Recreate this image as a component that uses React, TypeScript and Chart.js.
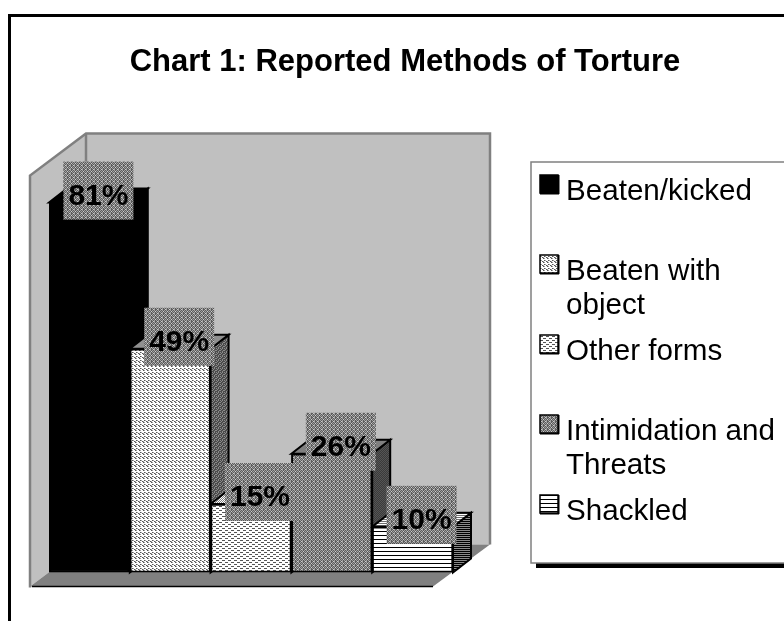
import React, { useEffect, useRef } from "react";
import { Chart, registerables } from "chart.js";

Chart.register(...registerables);

const TITLE = "Chart 1: Reported Methods of Torture";
const categories = ["Beaten/kicked", "Beaten with object", "Other forms", "Intimidation and Threats", "Shackled"];
const legendLines = [["Beaten/kicked"], ["Beaten with", "object"], ["Other forms"], ["Intimidation and", "Threats"], ["Shackled"]];
const values = [81, 49, 15, 26, 10];
const FONT = '"Liberation Sans", Arial, sans-serif';

type Palette = Record<string, string>;
function tile(rows: string[], pal: Palette): CanvasPattern {
  const c = document.createElement("canvas");
  c.width = rows[0].length;
  c.height = rows.length;
  const x = c.getContext("2d")!;
  rows.forEach((r, j) => [...r].forEach((ch, i) => {
    x.fillStyle = pal[ch];
    x.fillRect(i, j, 1, 1);
  }));
  return x.createPattern(c, "repeat")!;
}

export default function App() {
  const ref = useRef<HTMLCanvasElement>(null);
  useEffect(() => {
    const canvas = ref.current!;
    const bw = { a: "#ffffff", k: "#555555", g: "#a0a0a0" };
    const diag = tile(["kgaa", "aakg", "gaak", "aaaa"], bw);
    const wave = tile(["kkkaaa", "aaaaaa", "aaakkk", "aaaaaa"], bw);
    const dots = tile(["gdgd", "dlgd", "gdgd", "dgdl"], { g: "#a0a0a0", d: "#5c5c5c", l: "#cccccc" });
    const stripes = tile(["aaa", "aaa", "aaa", "kkk"], { a: "#ffffff", k: "#000000" });
    const hatchDark = tile(["gkgk", "kgkk", "gkkg", "kkgk"], { g: "#8a8a8a", k: "#4a4a4a" });
    const darkDots = tile(["dk", "kd"], { d: "#555555", k: "#3a3a3a" });
    const stripesDark = tile(["gg", "kk"], { g: "#8a8a8a", k: "#000000" });
    const topLight = tile(["ag", "ga"], { a: "#ffffff", g: "#808080" });
    const topStripes = tile(["gg", "kk"], { g: "#ffffff", k: "#707070" });
    const fronts: (string | CanvasPattern)[] = ["#000000", diag, wave, dots, stripes];
    const sides: (string | CanvasPattern)[] = ["#000000", hatchDark, hatchDark, darkDots, stripesDark];
    const tops: (string | CanvasPattern)[] = ["#000000", "#909090", topLight, "#808080", topStripes];
    const DX = 18, DY = 14;

    const scene = {
      id: "scene",
      beforeDatasetsDraw(chart: any) {
        const { ctx, chartArea: a } = chart;
        const h = a.bottom - a.top;
        const fx = a.left - 19, fy = a.bottom + 14;
        const bx = fx + 56, by = fy - 42;
        const frx = a.right - 20;
        const brx = a.right + 37;
        ctx.save();
        // frame
        ctx.fillStyle = "#000";
        ctx.fillRect(8, 14, 776, 3);
        ctx.fillRect(8, 14, 3, 607);
        // title
        ctx.font = `bold 31px ${FONT}`;
        ctx.textAlign = "center";
        ctx.textBaseline = "alphabetic";
        ctx.fillText(TITLE, 405, 71);
        // walls
        ctx.lineJoin = "miter";
        ctx.strokeStyle = "#808080";
        ctx.lineWidth = 2.5;
        ctx.fillStyle = "#c0c0c0";
        ctx.fillRect(bx, by - h, brx - bx, h);
        ctx.beginPath();
        ctx.moveTo(fx, fy - h); ctx.lineTo(bx, by - h); ctx.lineTo(bx, by); ctx.lineTo(fx, fy); ctx.closePath();
        ctx.fill();
        // floor
        ctx.fillStyle = "#808080";
        ctx.beginPath();
        ctx.moveTo(fx, fy); ctx.lineTo(bx, by); ctx.lineTo(brx, by); ctx.lineTo(frx, fy); ctx.closePath();
        ctx.fill();
        // wall edges
        ctx.beginPath();
        ctx.moveTo(fx, fy + 1); ctx.lineTo(fx, fy - h); ctx.lineTo(bx, by - h); ctx.lineTo(brx, by - h); ctx.lineTo(brx, by);
        ctx.moveTo(bx, by - h); ctx.lineTo(bx, by);
        ctx.stroke();
        ctx.strokeStyle = "#000";
        ctx.lineWidth = 1.5;
        ctx.beginPath();
        ctx.moveTo(fx + 2, fy); ctx.lineTo(frx, fy);
        ctx.stroke();
        // bar depth faces
        const meta = chart.getDatasetMeta(0);
        meta.data.forEach((bar: any, i: number) => {
          const half = bar.width / 2;
          const l = bar.x - half, r = bar.x + half, t = bar.y, b = bar.base;
          ctx.lineWidth = 2;
          ctx.strokeStyle = "#000";
          ctx.fillStyle = sides[i];
          ctx.beginPath();
          ctx.moveTo(r, t); ctx.lineTo(r + DX, t - DY); ctx.lineTo(r + DX, b - DY); ctx.lineTo(r, b); ctx.closePath();
          ctx.fill(); ctx.stroke();
          ctx.fillStyle = tops[i];
          ctx.beginPath();
          ctx.moveTo(l, t); ctx.lineTo(l + DX, t - DY); ctx.lineTo(r + DX, t - DY); ctx.lineTo(r, t); ctx.closePath();
          ctx.fill(); ctx.stroke();
        });
        ctx.restore();
      },
      afterDatasetsDraw(chart: any) {
        const { ctx } = chart;
        const meta = chart.getDatasetMeta(0);
        ctx.save();
        ctx.textAlign = "center";
        ctx.textBaseline = "alphabetic";
        meta.data.forEach((bar: any, i: number) => {
          const cx = bar.x + 9, cy = bar.y - 12;
          ctx.fillStyle = dots;
          ctx.fillRect(cx - 35, cy - 29, 70, 58);
          ctx.fillStyle = "#000";
          ctx.font = `bold 30px ${FONT}`;
          ctx.fillText(`${values[i]}%`, cx, cy + 14);
        });
        // legend box
        ctx.fillStyle = "#000";
        ctx.fillRect(536, 563, 248, 5);
        ctx.fillStyle = "#fff";
        ctx.strokeStyle = "#808080";
        ctx.lineWidth = 1.5;
        ctx.fillRect(531, 162, 260, 401);
        ctx.strokeRect(531, 162, 260, 401);
        ctx.font = `29.6px ${FONT}`;
        ctx.textAlign = "left";
        legendLines.forEach((lines, i) => {
          const sy = 175 + i * 80;
          ctx.fillStyle = fronts[i];
          ctx.fillRect(540, sy, 18, 18);
          ctx.strokeStyle = "#000";
          ctx.lineWidth = 1.5;
          ctx.strokeRect(540, sy, 18, 18);
          ctx.fillStyle = "#000";
          ctx.fillRect(540, sy + 18, 19, 1.5);
          ctx.fillRect(558, sy, 1.5, 19);
          lines.forEach((ln, k) => ctx.fillText(ln, 566, 200 + i * 80 + k * 34));
        });
        ctx.restore();
      },
    };

    const chart = new Chart(canvas, {
      type: "bar",
      data: {
        labels: categories,
        datasets: [{
          data: values,
          backgroundColor: fronts as any,
          borderColor: "#000000",
          borderWidth: 2,
          borderSkipped: false,
          barPercentage: 1,
          categoryPercentage: 1,
        }],
      },
      options: {
        animation: false,
        responsive: false,
        events: [],
        layout: { padding: { left: 49, right: 331, top: 161.5, bottom: 48.5 } },
        plugins: { legend: { display: false }, title: { display: false }, tooltip: { enabled: false } },
        scales: {
          x: { display: false },
          y: { display: false, min: 0, max: 90 },
        },
      },
      plugins: [scene],
    } as any);
    return () => chart.destroy();
  }, []);
  return (
    <canvas
      ref={ref}
      width={784}
      height={621}
      style={{ position: "absolute", left: 0, top: 0, width: 784, height: 621, display: "block", background: "#fff" }}
    />
  );
}
